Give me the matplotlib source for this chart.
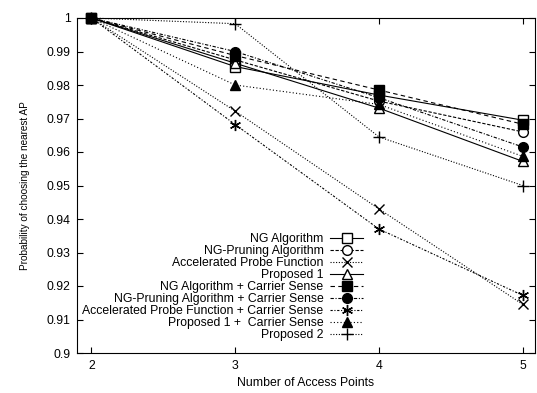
import matplotlib
matplotlib.use("Agg")
import matplotlib.pyplot as plt

plt.rcParams['font.family'] = ['Liberation Sans', 'DejaVu Sans']

x = [2, 3, 4, 5]
labels = [
    "NG Algorithm",
    "NG-Pruning Algorithm",
    "Accelerated Probe Function",
    "Proposed 1",
    "NG Algorithm + Carrier Sense",
    "NG-Pruning Algorithm + Carrier Sense",
    "Accelerated Probe Function + Carrier Sense",
    "Proposed 1 +  Carrier Sense",
    "Proposed 2",
]
ng = [1.0, 0.9855, 0.9770, 0.9695]
ng_pruning = [1.0, 0.9875, 0.9752, 0.9660]
apf = [1.0, 0.9722, 0.9430, 0.9145]
proposed1 = [1.0, 0.9865, 0.9731, 0.9572]
ng_cs = [1.0, 0.9888, 0.9785, 0.9683]
ng_pruning_cs = [1.0, 0.9900, 0.9762, 0.9615]
apf_cs = [1.0, 0.9682, 0.9370, 0.9172]
proposed1_cs = [1.0, 0.9800, 0.9742, 0.9587]
proposed2 = [1.0, 0.9983, 0.9645, 0.9500]

series = [ng, ng_pruning, apf, proposed1, ng_cs, ng_pruning_cs, apf_cs, proposed1_cs, proposed2]
styles = [
    dict(ls='-', marker='s', mfc='white', ms=7),
    dict(ls=(0, (3, 1.5)), marker='o', mfc='white', ms=7),
    dict(ls=(0, (1, 1.5)), marker='x', mfc='none', ms=7.5, mew=1.0),
    dict(ls='-', marker='^', mfc='white', ms=7),
    dict(ls=(0, (4, 3)), marker='s', mfc='black', ms=7),
    dict(ls=(0, (3, 1.5, 1, 1.5)), marker='o', mfc='black', ms=7),
    dict(ls=(0, (2, 1.5, 1, 1.5)), marker=(6, 2, 0), mfc='none', ms=8, mew=1.0),
    dict(ls=(0, (1, 2)), marker='^', mfc='black', ms=7),
    dict(ls=(0, (1, 1.5)), marker='+', mfc='none', ms=9, mew=1.0),
]

fig = plt.figure(figsize=(5.37, 3.93), dpi=100)
ax = fig.add_axes([77 / 537, 1 - 353 / 393, 458 / 537, 335 / 393])

for y, lab, st in zip(series, labels, styles):
    ax.plot(x, y, color='black', lw=0.8, mec='black', label=lab, clip_on=False, **st)

ax.set_xlim(1.9, 5.085)
ax.set_ylim(0.9, 1.0)
ax.set_xticks(x)
ax.set_yticks([0.9, 0.91, 0.92, 0.93, 0.94, 0.95, 0.96, 0.97, 0.98, 0.99, 1.0])
ax.set_yticklabels(["0.9", "0.91", "0.92", "0.93", "0.94", "0.95", "0.96", "0.97", "0.98", "0.99", "1"])
ax.tick_params(direction='in', top=True, right=True, labelsize=8.8, length=4, width=0.8)
ax.tick_params(axis='x', pad=5)
ax.tick_params(axis='y', pad=4.5)
for sp in ax.spines.values():
    sp.set_linewidth(0.8)

ax.set_xlabel("Number of Access Points", fontsize=8.8, labelpad=4)
ax.set_ylabel("Probability of choosing the nearest AP", fontsize=7.2, labelpad=12)

leg = ax.legend(loc='lower right', bbox_to_anchor=(0.625, 0.035), markerfirst=False,
                frameon=False, fontsize=8.8, handlelength=2.7, handletextpad=0.55,
                labelspacing=0.0, borderpad=0.0, borderaxespad=0.0)
for t in leg.get_texts():
    t.set_ha('right')
leg._legend_box.align = "right"

fig.savefig("out.png", dpi=100)
